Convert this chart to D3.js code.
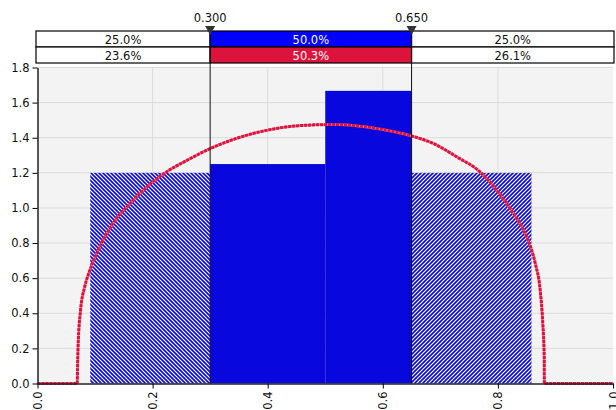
<!DOCTYPE html>
<meta charset="utf-8">
<style>
body { margin: 0; background: #fff; }
text { font-family: "DejaVu Sans", sans-serif; }
</style>
<svg id="chart" width="616" height="410"></svg>
<script src="https://d3js.org/d3.v7.min.js"></script>
<script>

var cuts = [0.3, 0.65];
var cutLabels = ["0.300", "0.650"];
var targetRow = ["25.0%", "50.0%", "25.0%"];
var fitRow = ["23.6%", "50.3%", "26.1%"];

var binStart = [0.0917, 0.3, 0.5, 0.65];
var binEnd = [0.3, 0.5, 0.65, 0.8583];
var binHeight = [1.2, 1.25, 1.667, 1.2];
var binHatch = ["back", "none", "none", "fwd"];

var curveX = [0, 0.069, 0.0695, 0.0705, 0.0748, 0.082, 0.091, 0.108, 0.131, 0.1605, 0.19, 0.224, 0.259, 0.3,
	0.34, 0.398, 0.456, 0.514, 0.572, 0.618, 0.65, 0.688, 0.729, 0.769, 0.798, 0.827, 0.85, 0.865,
	0.8735, 0.878, 0.8805, 0.8806, 1];
var curveY = [0, 0, 0.08, 0.21, 0.417, 0.55, 0.645, 0.778, 0.911, 1.025, 1.12, 1.205, 1.27, 1.338,
	1.39, 1.442, 1.469, 1.475, 1.461, 1.435, 1.41, 1.367, 1.29, 1.205, 1.10, 0.968, 0.835, 0.683,
	0.531, 0.342, 0.151, 0, 0];

var xTicks = [0, 0.2, 0.4, 0.6, 0.8, 1.0];
var yTicks = [0, 0.2, 0.4, 0.6, 0.8, 1.0, 1.2, 1.4, 1.6, 1.8];

var svg = d3.select("svg#chart");

var x = d3.scaleLinear().domain([0, 1]).range([37.5, 613]);
var y = d3.scaleLinear().domain([0, 1.8]).range([383.5, 67.5]);

// hatch patterns, 4px repeat
var defs = svg.append("defs");
[["back", "M0,0L4,4M-1,3L1,5M3,-1L5,1"], ["fwd", "M0,4L4,0M-1,1L1,-1M3,5L5,3"]].forEach(function(p) {
	var pat = defs.append("pattern")
		.attr("id", "hatch-" + p[0])
		.attr("patternUnits", "userSpaceOnUse")
		.attr("width", 4).attr("height", 4);
	pat.append("rect").attr("width", 4).attr("height", 4).attr("fill", "#0000dd");
	pat.append("path").attr("d", p[1])
		.attr("stroke", "#ffffff").attr("stroke-width", 1.2);
});

// plot background + grid
svg.append("rect")
	.attr("x", x(0)).attr("y", y(1.8))
	.attr("width", x(1) - x(0)).attr("height", y(0) - y(1.8))
	.attr("fill", "#f3f3f3");

var grid = svg.append("g");
grid.selectAll("line.gy")
	.data(yTicks.slice(1))
	.enter().append("line")
		.attr("x1", x(0)).attr("x2", x(1))
		.attr("y1", function(d) { return y(d); })
		.attr("y2", function(d) { return y(d); })
		.attr("stroke", "#dcdcdc");
grid.selectAll("line.gx")
	.data(xTicks.slice(1, -1))
	.enter().append("line")
		.attr("y1", y(0)).attr("y2", y(1.8))
		.attr("x1", function(d) { return x(d); })
		.attr("x2", function(d) { return x(d); })
		.attr("stroke", "#dcdcdc");

// histogram bars
svg.append("g").selectAll("rect")
	.data(binStart)
	.enter().append("rect")
		.attr("x", function(d) { return x(d); })
		.attr("y", function(d, i) { return y(binHeight[i]); })
		.attr("width", function(d, i) { return x(binEnd[i]) - x(d); })
		.attr("height", function(d, i) { return y(0) - y(binHeight[i]); })
		.attr("fill", function(d, i) {
			return binHatch[i] == "none" ? "#0000dd" : "url(#hatch-" + binHatch[i] + ")";
		})
		.attr("fill-opacity", 0.97);

// fitted density
var pts = curveX.map(function(d, i) { return [d, curveY[i]]; });
var line = d3.line()
	.x(function(d) { return x(d[0]); })
	.y(function(d) { return y(d[1]); })
	.curve(d3.curveMonotoneX);

svg.append("path")
	.attr("d", line(pts))
	.attr("fill", "none")
	.attr("stroke", "#f07090")
	.attr("stroke-width", 2.5);
svg.append("path")
	.attr("d", line(pts))
	.attr("fill", "none")
	.attr("stroke", "#dc143c")
	.attr("stroke-width", 3)
	.attr("stroke-dasharray", "3,1");

// axes
var yAxis = svg.append("g")
	.attr("transform", "translate(" + x(0) + ",0)")
	.call(d3.axisLeft(y).tickValues(yTicks).tickFormat(d3.format(".1f")).tickSize(5).tickSizeOuter(0));
yAxis.select(".domain").attr("stroke", "#222").attr("stroke-width", 1.5);
yAxis.selectAll("text").attr("font-size", 11.5).attr("fill", "#111")
	.attr("font-family", "DejaVu Sans, sans-serif");

var xAxis = svg.append("g")
	.attr("transform", "translate(0," + y(0) + ")")
	.call(d3.axisBottom(x).tickValues(xTicks).tickFormat(d3.format(".1f")).tickSize(5).tickSizeOuter(0));
xAxis.select(".domain").attr("stroke", "#222").attr("stroke-width", 1.5);
xAxis.selectAll("text")
	.attr("font-size", 11.5).attr("fill", "#111")
	.attr("font-family", "DejaVu Sans, sans-serif")
	.attr("transform", "rotate(-90)")
	.attr("text-anchor", "end")
	.attr("x", -8).attr("y", 0).attr("dy", "0.35em");

// probability header
var left = x(0) - 1.5, right = x(1) + 1;
var edges = [left, x(cuts[0]), x(cuts[1]), right];
var rows = [
	{ labels: targetRow, y: 31, mid: "#0000ff" },
	{ labels: fitRow, y: 47, mid: "#dc143c" }
];
rows.forEach(function(r) {
	var g = svg.append("g");
	g.selectAll("rect")
		.data(r.labels)
		.enter().append("rect")
			.attr("x", function(d, i) { return edges[i]; })
			.attr("y", r.y)
			.attr("width", function(d, i) { return edges[i + 1] - edges[i]; })
			.attr("height", 16)
			.attr("fill", function(d, i) { return i == 1 ? r.mid : "#fff"; })
			.attr("stroke", "#000").attr("stroke-width", 1.2);
	g.selectAll("text")
		.data(r.labels)
		.enter().append("text")
			.attr("x", function(d, i) { return (edges[i] + edges[i + 1]) / 2; })
			.attr("y", r.y + 12.5)
			.attr("text-anchor", "middle")
			.attr("font-size", 11.5)
			.attr("fill", function(d, i) { return i == 1 ? "#fff" : "#111"; })
			.text(function(d) { return d; });
});

// cut markers
var cutG = svg.append("g").selectAll("g")
	.data(cuts)
	.enter().append("g")
		.attr("transform", function(d) { return "translate(" + x(d) + ",0)"; });
cutG.append("line")
	.attr("y1", 31).attr("y2", y(0))
	.attr("stroke", "#111").attr("stroke-width", 1);
cutG.append("path")
	.attr("d", "M-5,26L5,26L0,35Z")
	.attr("fill", "#333");
cutG.append("text")
	.attr("y", 22)
	.attr("text-anchor", "middle")
	.attr("font-size", 11.5)
	.attr("fill", "#111")
	.text(function(d, i) { return cutLabels[i]; });

</script>
